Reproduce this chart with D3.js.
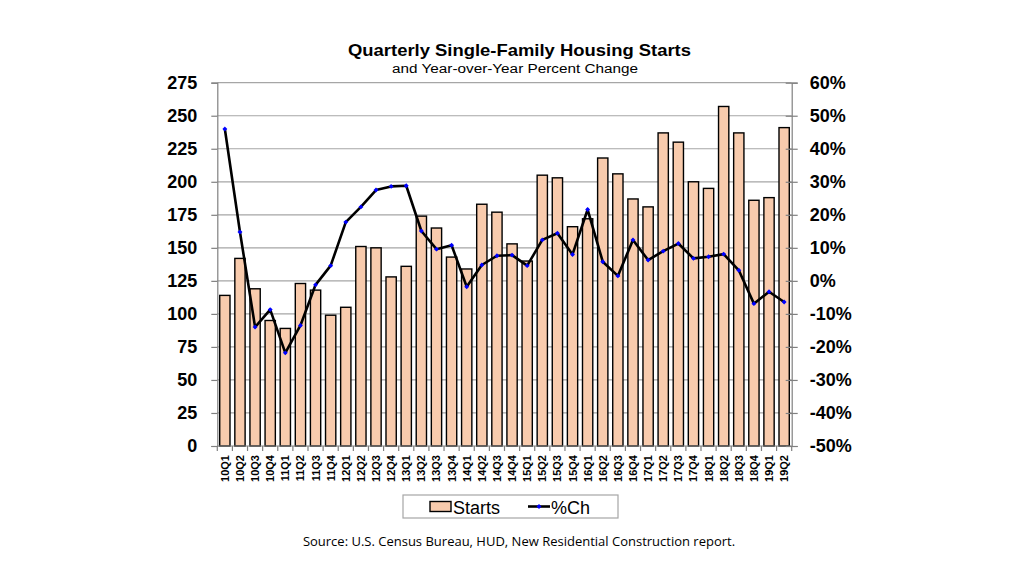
<!DOCTYPE html>
<html>
<head>
<meta charset="utf-8">
<script src="https://cdn.jsdelivr.net/npm/d3@7"></script>
<style>
  body { margin: 0; background: #fff; }
  svg { display: block; font-family: Arial, "Liberation Sans", sans-serif; }
</style>
</head>
<body>
<div id="chart"></div>
<script>
// quarters 2010Q1 .. 2019Q2
const quarters = ['10Q1','10Q2','10Q3','10Q4','11Q1','11Q2','11Q3','11Q4',
  '12Q1','12Q2','12Q3','12Q4','13Q1','13Q2','13Q3','13Q4',
  '14Q1','14Q2','14Q3','14Q4','15Q1','15Q2','15Q3','15Q4',
  '16Q1','16Q2','16Q3','16Q4','17Q1','17Q2','17Q3','17Q4',
  '18Q1','18Q2','18Q3','18Q4','19Q1','19Q2'];

// single-family starts, thousands
const starts = [114, 142, 119, 95, 89, 123, 118, 99,
  105, 151, 150, 128, 136, 174, 165, 143,
  134, 183, 177, 153, 140, 205, 203, 166,
  172, 218, 206, 187, 181, 237, 230, 200,
  195, 257, 237, 186, 188, 241];

// year-over-year percent change
const pctChange = [46, 14.8, -14, -8.7, -21.8, -13.5, -1.2, 4.6,
  17.8, 22.4, 27.5, 28.6, 28.8, 15.1, 9.6, 10.8,
  -1.8, 4.8, 7.6, 7.8, 4.6, 12.4, 14.4, 8.0,
  21.6, 5.8, 1.5, 12.4, 6.3, 9.0, 11.3, 6.8,
  7.3, 8.1, 3.2, -6.9, -3.3, -6.4];

const leftTicks = d3.range(0, 276, 25);
const rightTicks = d3.range(-50, 61, 10);

const W = 1024, H = 576;
const margin = { top: 82.7, right: 232.3, bottom: 130, left: 217.3 };
const width = W - margin.left - margin.right;
const height = H - margin.top - margin.bottom;

const svg = d3.select('#chart').append('svg')
  .attr('width', W)
  .attr('height', H);

const x = d3.scaleBand()
  .domain(quarters)
  .range([0, width])
  .paddingInner(0.32)
  .paddingOuter(0.16);

const y = d3.scaleLinear().domain([0, 275]).range([height, 0]);
const y2 = d3.scaleLinear().domain([-50, 60]).range([height, 0]);

const g = svg.append('g')
  .attr('transform', `translate(${margin.left},${margin.top})`);

// gridlines
g.append('g')
  .selectAll('line')
  .data(leftTicks.filter(d => d > 0))
  .enter().append('line')
  .attr('x1', 0).attr('x2', width)
  .attr('y1', d => y(d)).attr('y2', d => y(d))
  .attr('stroke', '#a6a6a6')
  .attr('stroke-width', 1.2);

// bars
g.selectAll('.bar')
  .data(quarters)
  .enter().append('rect')
  .attr('class', 'bar')
  .attr('x', d => x(d))
  .attr('y', (d, i) => y(starts[i]))
  .attr('width', x.bandwidth())
  .attr('height', (d, i) => height - y(starts[i]))
  .attr('fill', '#f8cbad')
  .attr('stroke', '#000')
  .attr('stroke-width', 1.4);

// left axis
const axL = g.append('g')
  .call(d3.axisLeft(y).tickValues(leftTicks).tickSize(6).tickPadding(14));
axL.select('.domain').attr('stroke', '#808080').attr('stroke-width', 1.2);
axL.selectAll('.tick line').attr('stroke', '#808080').attr('stroke-width', 1.2);
axL.selectAll('text')
  .attr('font-size', 18).attr('font-weight', 'bold').attr('fill', '#000')
  .attr('font-family', 'Arial, "Liberation Sans", sans-serif');

// right axis
const axR = g.append('g')
  .attr('transform', `translate(${width},0)`)
  .call(d3.axisRight(y2).tickValues(rightTicks).tickSize(6).tickPadding(12)
    .tickFormat(d => d + '%'));
axR.select('.domain').attr('stroke', '#808080').attr('stroke-width', 1.2);
axR.selectAll('.tick line').attr('x1', -6).attr('stroke', '#808080').attr('stroke-width', 1.2);
axR.selectAll('text')
  .attr('font-size', 18).attr('font-weight', 'bold').attr('fill', '#000')
  .attr('font-family', 'Arial, "Liberation Sans", sans-serif');

// bottom axis: ticks at category boundaries, rotated labels
const step = x.step();
const xb = g.append('g').attr('transform', `translate(0,${height})`);
xb.append('line')
  .attr('x1', 0).attr('x2', width)
  .attr('stroke', '#808080').attr('stroke-width', 1.2);
xb.selectAll('.tk')
  .data(d3.range(quarters.length + 1))
  .enter().append('line')
  .attr('x1', i => i * step).attr('x2', i => i * step)
  .attr('y1', 0).attr('y2', 5)
  .attr('stroke', '#808080').attr('stroke-width', 1.2);
xb.selectAll('.lbl')
  .data(quarters)
  .enter().append('text')
  .attr('transform', d => `translate(${x(d) + x.bandwidth() / 2 + 4},9) rotate(-90)`)
  .attr('text-anchor', 'end')
  .attr('font-size', 11)
  .attr('font-weight', 'bold')
  .text(d => d);

// percent change line
const cx = d => x(d) + x.bandwidth() / 2;
const line = d3.line()
  .x(d => cx(d))
  .y((d, i) => y2(pctChange[i]));

g.append('path')
  .datum(quarters)
  .attr('d', line)
  .attr('fill', 'none')
  .attr('stroke', '#000')
  .attr('stroke-width', 2.6)
  .attr('stroke-linejoin', 'round');

g.selectAll('.pt')
  .data(quarters)
  .enter().append('path')
  .attr('class', 'pt')
  .attr('transform', (d, i) => `translate(${cx(d)},${y2(pctChange[i])}) rotate(45)`)
  .attr('d', d3.symbol(d3.symbolSquare, 12)())
  .attr('fill', '#0000ff');

// titles (the original slide text is a bit wider than plain Arial)
svg.append('text')
  .attr('x', 348).attr('y', 56)
  .attr('font-size', 16.5).attr('font-weight', 'bold')
  .attr('textLength', 343).attr('lengthAdjust', 'spacingAndGlyphs')
  .text('Quarterly Single-Family Housing Starts');

svg.append('text')
  .attr('x', 392).attr('y', 73)
  .attr('font-size', 12)
  .attr('textLength', 246).attr('lengthAdjust', 'spacingAndGlyphs')
  .text('and Year-over-Year Percent Change');

// legend
const lg = svg.append('g');
lg.append('rect')
  .attr('x', 403).attr('y', 495)
  .attr('width', 215).attr('height', 23)
  .attr('fill', '#fff').attr('stroke', '#a6a6a6').attr('stroke-width', 1.2);
lg.append('rect')
  .attr('x', 430).attr('y', 501.5)
  .attr('width', 21).attr('height', 10)
  .attr('fill', '#f8cbad').attr('stroke', '#000').attr('stroke-width', 1.4);
lg.append('text')
  .attr('x', 453).attr('y', 513.5)
  .attr('font-size', 18)
  .text('Starts');
lg.append('line')
  .attr('x1', 528).attr('x2', 550)
  .attr('y1', 506.5).attr('y2', 506.5)
  .attr('stroke', '#000').attr('stroke-width', 2.6);
lg.append('path')
  .attr('transform', 'translate(539,506.5) rotate(45)')
  .attr('d', d3.symbol(d3.symbolSquare, 12)())
  .attr('fill', '#0000ff');
lg.append('text')
  .attr('x', 551).attr('y', 513.5)
  .attr('font-size', 18)
  .text('%Ch');

// source
svg.append('text')
  .attr('x', 519).attr('y', 546)
  .attr('text-anchor', 'middle')
  .attr('font-size', 13)
  .attr('font-family', '"Open Sans", "Noto Sans", sans-serif')
  .text('Source: U.S. Census Bureau, HUD, New Residential Construction report.');
</script>
</body>
</html>
